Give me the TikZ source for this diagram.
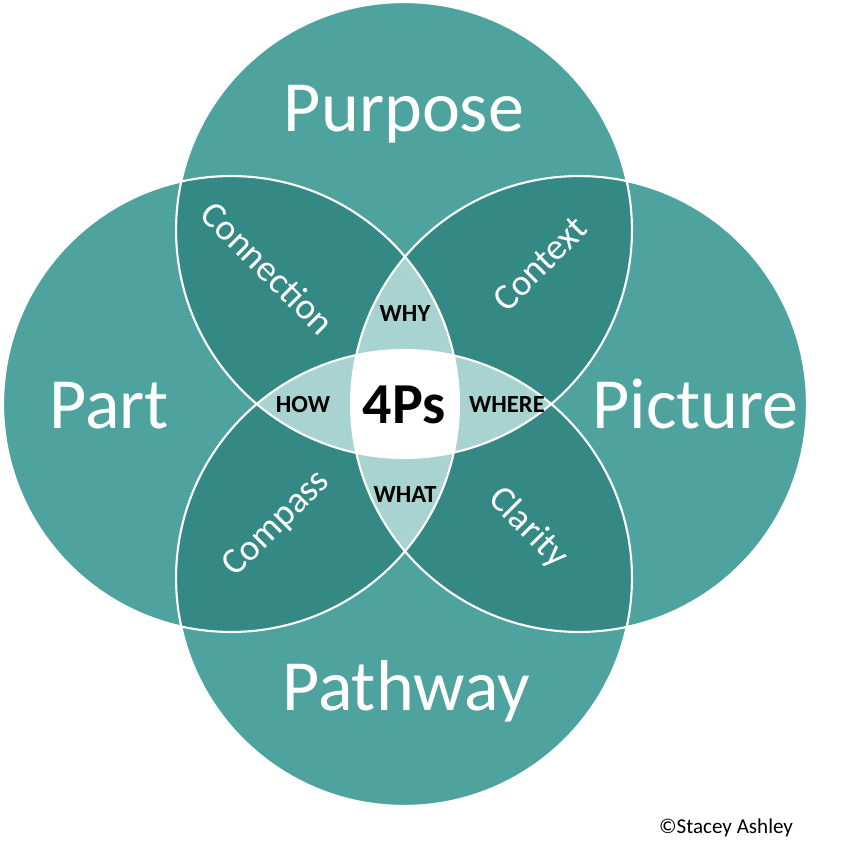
\documentclass[tikz,border=0pt]{standalone}
\usepackage{fontspec}
\setmainfont{Carlito}
\usetikzlibrary{positioning}
\definecolor{tealmid}{RGB}{79,163,159}
\definecolor{tealdark}{RGB}{53,137,133}
\definecolor{teallight}{RGB}{168,211,208}
\tikzset{
  rim/.style={draw=white, line width=1.2pt},
  bigp/.style={text=white, anchor=base, font=\fontsize{41}{45}\selectfont},
  petal/.style={text=white, font=\fontsize{21}{25}\selectfont},
  ask/.style={text=black, font=\bfseries\fontsize{14}{16}\selectfont},
  core/.style={text=black, font=\bfseries\fontsize{33}{36}\selectfont},
}

\begin{document}
\begin{tikzpicture}[x=0.02cm, y=-0.02cm]
  \useasboundingbox (0,0) rectangle (847,854);
  \def\rad{4.56cm}
  \coordinate (ctop) at (404,230);
  \coordinate (cbot) at (404,578);
  \coordinate (cleft) at (231,404);
  \coordinate (cright) at (579,404);

  % base circles
  \foreach \c in {ctop,cbot,cleft,cright}
    \fill[tealmid] (\c) circle (\rad);
  % two-way overlaps
  \foreach \a in {ctop,cbot} {
    \begin{scope}
      \clip (\a) circle (\rad);
      \fill[tealdark] (cleft) circle (\rad);
      \fill[tealdark] (cright) circle (\rad);
    \end{scope}
  }
  % three-way overlaps
  \begin{scope}
    \clip (ctop) circle (\rad);
    \fill[teallight] (cbot) circle (\rad);
  \end{scope}
  \begin{scope}
    \clip (cleft) circle (\rad);
    \fill[teallight] (cright) circle (\rad);
  \end{scope}
  % centre
  \begin{scope}
    \clip (ctop) circle (\rad);
    \clip (cbot) circle (\rad);
    \clip (cleft) circle (\rad);
    \fill[white] (cright) circle (\rad);
  \end{scope}
  \foreach \c in {ctop,cbot,cleft,cright}
    \draw[rim] (\c) circle (\rad);

  \node[bigp] (purpose) at (404,131.7) {Purpose};
  \node[bigp] (part) at (109,428.3) {Part};
  \node[bigp] (picture) at (695.5,428.3) {Picture};
  \node[bigp] (pathway) at (406,710.7) {Pathway};

  \node[petal, rotate=-45] (connection) at (268,268) {Connection};
  \node[petal, rotate=45] (context) at (540,264) {Context};
  \node[petal, rotate=45] (compass) at (277,524) {Compass};
  \node[petal, rotate=-45] (clarity) at (528,528) {Clarity};

  \node[ask] (why) at (405,314) {WHY};
  \node[ask] (how) at (303,405) {HOW};
  \node[ask] (where) at (507,405) {WHERE};
  \node[ask] (what) at (405,494.5) {WHAT};
  \node[core] (fourp) at (404,405) {4Ps};

  \node[font=\fontsize{12}{14}\selectfont] (credit) at (726,828) {©Stacey Ashley};
\end{tikzpicture}
\end{document}
